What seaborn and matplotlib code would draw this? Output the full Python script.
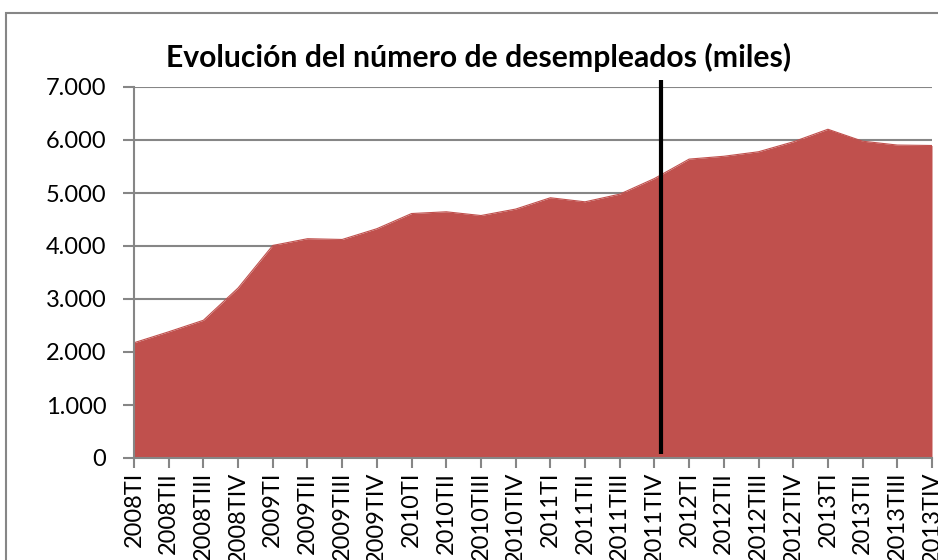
import matplotlib
matplotlib.use('Agg')
import matplotlib.pyplot as plt
import seaborn as sns
import pandas as pd
from matplotlib.patches import Rectangle
from matplotlib.ticker import FuncFormatter

# Parados por trimestre (miles)
quarters = [
    "2008TI", "2008TII", "2008TIII", "2008TIV",
    "2009TI", "2009TII", "2009TIII", "2009TIV",
    "2010TI", "2010TII", "2010TIII", "2010TIV",
    "2011TI", "2011TII", "2011TIII", "2011TIV",
    "2012TI", "2012TII", "2012TIII", "2012TIV",
    "2013TI", "2013TII", "2013TIII", "2013TIV",
]
unemployed = [
    2174.2, 2381.5, 2598.8, 3207.9,
    4010.7, 4137.5, 4123.3, 4326.5,
    4612.7, 4645.5, 4574.7, 4696.6,
    4910.2, 4833.7, 4978.3, 5273.6,
    5639.5, 5693.1, 5778.1, 5965.4,
    6202.7, 5977.5, 5904.7, 5896.3,
]
y_ticks = [0, 1000, 2000, 3000, 4000, 5000, 6000, 7000]
title = "Evolución del número de desempleados (miles)"

# black divider drawn just after 2011TIV
divider_x = 15.2
divider_span = (75, 7130)

AREA = "#C0504D"
GRID = "#868686"

sns.set_theme(style="white")
plt.rcParams['font.family'] = ['Lato', 'DejaVu Sans']

df = pd.DataFrame({"trimestre": quarters, "parados": unemployed})
df["pos"] = range(len(df))

W, H = 938, 560
fig = plt.figure(figsize=(W / 100, H / 100), dpi=100)
ax = fig.add_axes([134 / W, 1 - 458 / H, (932 - 134) / W, (458 - 87) / H])

ax.fill_between(df["pos"], df["parados"], color=AREA, lw=0, zorder=2)
sns.lineplot(data=df, x="pos", y="parados", color=AREA, lw=0.8, ax=ax, zorder=2)

ax.plot([divider_x, divider_x], divider_span, color="black", lw=3,
        solid_capstyle="butt", clip_on=False, zorder=5)

ax.set_xlim(0, len(df) - 1)
ax.set_ylim(y_ticks[0], y_ticks[-1])
ax.set_yticks(y_ticks)
ax.yaxis.set_major_formatter(FuncFormatter(lambda v, p: f"{int(v):,}".replace(",", ".")))
ax.set_xticks(df["pos"])
ax.set_xticklabels(quarters, rotation=90, ha="center", va="top")

ax.grid(axis="y", color=GRID, lw=1.5, zorder=1)
ax.grid(axis="x", visible=False)
ax.set_axisbelow(True)

for side in ["top", "right"]:
    ax.spines[side].set_visible(False)
for side in ["left", "bottom"]:
    ax.spines[side].set_color(GRID)
    ax.spines[side].set_linewidth(1.5)
    ax.spines[side].set_zorder(3)

ax.tick_params(axis="x", bottom=True, length=7, width=1.5, color=GRID,
               pad=3, labelsize=17, labelcolor="black")
ax.tick_params(axis="y", left=True, length=8, width=1.5, color=GRID,
               pad=12, labelsize=17, labelcolor="black")
ax.set_xlabel("")
ax.set_ylabel("")

# outer chart-area border (cropped at right and bottom)
fig.add_artist(Rectangle((6 / W, -0.05), 1.0, (H - 13) / H + 0.05,
                         transform=fig.transFigure, fill=False,
                         edgecolor=GRID, lw=1.5))

fig.text(479 / W, 1 - 57 / H, title, ha="center", va="center",
         fontsize=21.7, fontweight="bold", color="black")

fig.savefig("out.png", dpi=100)
plt.close(fig)
